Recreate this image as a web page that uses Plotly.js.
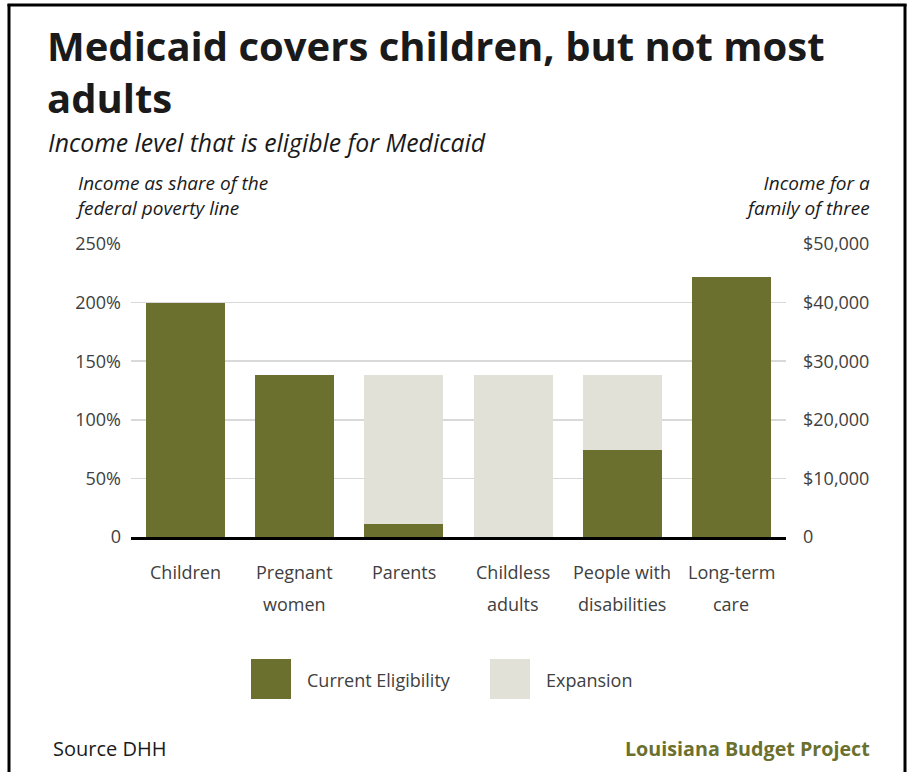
<!DOCTYPE html>
<html>
<head>
<meta charset="utf-8">
<script src="https://cdn.plot.ly/plotly-3.0.1.min.js"></script>
<style>
html,body{margin:0;padding:0;background:#fff;}
#chart{width:911px;height:772px;}
</style>
</head>
<body>
<div id="chart"></div>
<script>
// ---- data ----
const categories = ["Children", "Pregnant women", "Parents", "Childless adults", "People with disabilities", "Long-term care"];
const catLine1 = ["Children", "Pregnant", "Parents", "Childless", "People with", "Long-term"];
const catLine2 = ["", "women", "", "adults", "disabilities", "care"];
const currentEligibility = [200, 138, 11, 0, 74, 222];   // % of FPL
const expansionExtra = [0, 0, 127, 138, 64, 0];          // additional % of FPL under expansion
const leftTickVals = [0, 50, 100, 150, 200, 250];
const leftTickText = ["0", "50%", "100%", "150%", "200%", "250%"];
const rightTickVals = [0, 10000, 20000, 30000, 40000, 50000];
const rightTickText = ["0", "$10,000", "$20,000", "$30,000", "$40,000", "$50,000"];
const seriesNames = ["Current Eligibility", "Expansion"];
const titleLines = ["Medicaid covers children, but not most", "adults"];

// ---- layout helpers ----
const W = 911, H = 772;
const L = 131, R = 786, T = 244, B = 537;
const px = v => (v - L) / (R - L);
const py = v => (B - v) / (B - T);

const OLIVE = "#6b702e";
const LIGHT = "#e1e1d8";
const TXT = "#404040";
const FONT = "Open Sans, sans-serif";

const traces = [
  {type: "bar", name: seriesNames[0], x: categories, y: currentEligibility,
   marker: {color: OLIVE}, hoverinfo: "x+y", showlegend: false},
  {type: "bar", name: seriesNames[1], x: categories, y: expansionExtra,
   marker: {color: LIGHT}, hoverinfo: "x+y", showlegend: false},
  {type: "scatter", x: categories, y: categories.map(() => null),
   yaxis: "y2", mode: "markers", showlegend: false, hoverinfo: "skip"}
];

const annotations = [];
// title
annotations.push({xref: "paper", yref: "paper", x: px(45), y: py(46), text: "<b>" + titleLines[0] + "</b>",
  showarrow: false, xanchor: "left", yanchor: "middle", font: {family: FONT, size: 40, color: "#1a1a1a"}});
annotations.push({xref: "paper", yref: "paper", x: px(45), y: py(98), text: "<b>" + titleLines[1] + "</b>",
  showarrow: false, xanchor: "left", yanchor: "middle", font: {family: FONT, size: 40, color: "#1a1a1a"}});
// category labels (two lines, wide spacing)
categories.forEach((c, i) => {
  annotations.push({xref: "x", yref: "paper", x: c, y: py(572), text: catLine1[i],
    showarrow: false, xanchor: "center", yanchor: "middle", font: {family: FONT, size: 18, color: TXT}});
  if (catLine2[i]) annotations.push({xref: "x", yref: "paper", x: c, y: py(604), text: catLine2[i],
    showarrow: false, xanchor: "center", yanchor: "middle", font: {family: FONT, size: 18, color: TXT}});
});
// subtitle
annotations.push({xref: "paper", yref: "paper", x: px(46), y: py(142), text: "<i>Income level that is eligible for Medicaid</i>",
  showarrow: false, xanchor: "left", yanchor: "middle", font: {family: FONT, size: 24.8, color: "#1a1a1a"}});
// axis titles
annotations.push({xref: "paper", yref: "paper", x: px(73), y: py(195), text: "<i>Income as share of the<br>federal poverty line</i>",
  showarrow: false, xanchor: "left", yanchor: "middle", align: "left", font: {family: FONT, size: 19, color: "#1a1a1a"}});
annotations.push({xref: "paper", yref: "paper", x: px(872), y: py(195), text: "<i>Income for a<br>family of three</i>",
  showarrow: false, xanchor: "right", yanchor: "middle", align: "right", font: {family: FONT, size: 19, color: "#1a1a1a"}});
// legend labels
annotations.push({xref: "paper", yref: "paper", x: px(305), y: py(680), text: seriesNames[0],
  showarrow: false, xanchor: "left", yanchor: "middle", font: {family: FONT, size: 18, color: TXT}});
annotations.push({xref: "paper", yref: "paper", x: px(544), y: py(680), text: seriesNames[1],
  showarrow: false, xanchor: "left", yanchor: "middle", font: {family: FONT, size: 18, color: TXT}});
// footer
annotations.push({xref: "paper", yref: "paper", x: px(51), y: py(748), text: "Source DHH",
  showarrow: false, xanchor: "left", yanchor: "middle", font: {family: FONT, size: 20, color: "#1a1a1a"}});
annotations.push({xref: "paper", yref: "paper", x: px(872), y: py(748), text: "<b>Louisiana Budget Project</b>",
  showarrow: false, xanchor: "right", yanchor: "middle", font: {family: FONT, size: 19.7, color: OLIVE}});

const shapes = [
  // legend swatches
  {type: "rect", xref: "paper", yref: "paper", x0: px(251), x1: px(291), y0: py(699), y1: py(659), fillcolor: OLIVE, line: {width: 0}},
  {type: "rect", xref: "paper", yref: "paper", x0: px(490), x1: px(530), y0: py(699), y1: py(659), fillcolor: LIGHT, line: {width: 0}},
  // frame
  {type: "line", xref: "paper", yref: "paper", x0: px(9), x1: px(9), y0: py(4), y1: py(780), line: {color: "#000", width: 3}},
  {type: "line", xref: "paper", yref: "paper", x0: px(7.5), x1: px(906.5), y0: py(5), y1: py(5), line: {color: "#000", width: 3}},
  {type: "line", xref: "paper", yref: "paper", x0: px(905), x1: px(905), y0: py(4), y1: py(780), line: {color: "#000", width: 3}}
];

const layout = {
  width: W, height: H,
  margin: {l: L, r: W - R, t: T, b: H - B, pad: 0},
  paper_bgcolor: "#fff", plot_bgcolor: "#fff",
  barmode: "stack", bargap: 0.277,
  showlegend: false,
  font: {family: FONT, color: TXT},
  xaxis: {type: "category", categoryarray: categories, showticklabels: false, ticks: "",
    showgrid: false, showline: true, linecolor: "#000", linewidth: 3, zeroline: false, fixedrange: true},
  yaxis: {range: [0, 250], tickvals: leftTickVals, ticktext: leftTickText, showgrid: true,
    gridcolor: "#d9d9d9", gridwidth: 1.5, zeroline: false, showline: false, ticks: "",
    ticklabelstandoff: 9, tickfont: {family: FONT, size: 18, color: TXT}, fixedrange: true},
  yaxis2: {overlaying: "y", side: "right", range: [0, 50000], tickvals: rightTickVals, ticktext: rightTickText,
    showgrid: false, zeroline: false, showline: false, ticks: "", ticklabelstandoff: 16,
    tickfont: {family: FONT, size: 18, color: TXT}, fixedrange: true},
  annotations: annotations,
  shapes: shapes
};

Plotly.newPlot("chart", traces, layout, {displayModeBar: false, staticPlot: true});
</script>
</body>
</html>
